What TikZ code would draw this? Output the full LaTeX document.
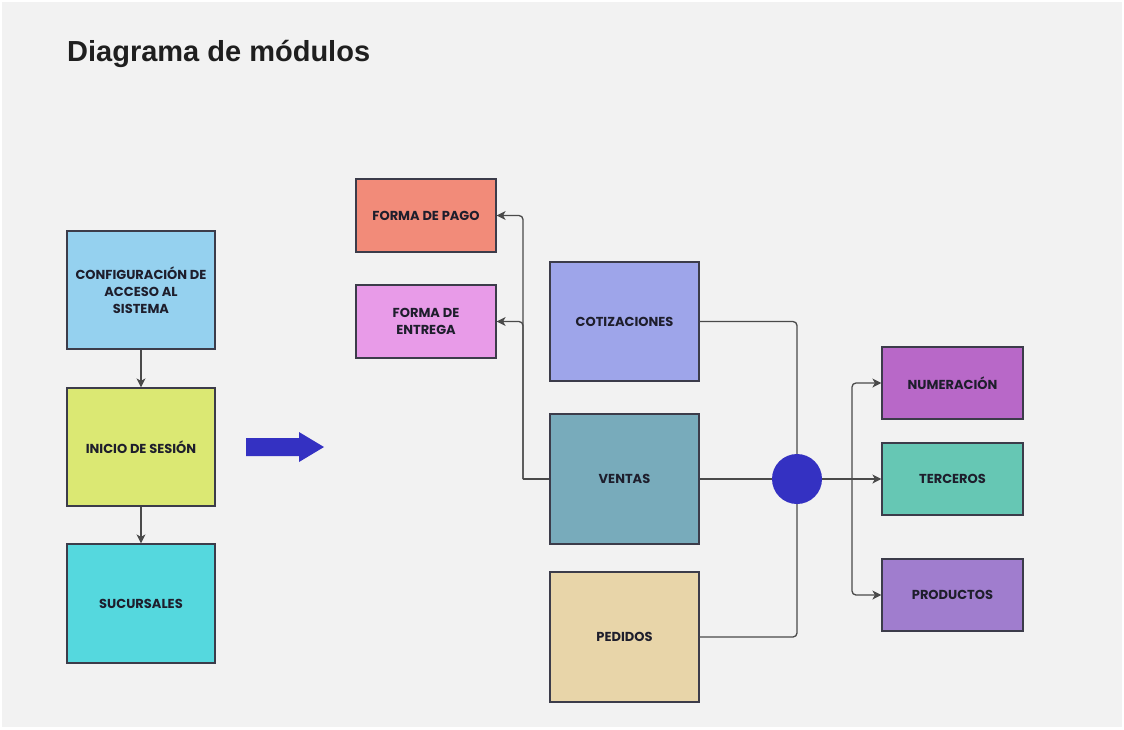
\documentclass[tikz,border=0pt]{standalone}
\usepackage{fontspec}
\setmainfont{Liberation Sans}
\newfontfamily\boxfont{Poppins}
\usetikzlibrary{arrows.meta,calc}
\definecolor{bgc}{HTML}{F2F2F2}
\definecolor{edgec}{HTML}{3C3C4A}
\definecolor{linec}{HTML}{4A4A4A}
\definecolor{txtc}{HTML}{1E1E2C}
\definecolor{hubc}{HTML}{3431C2}
\definecolor{cConf}{HTML}{95D1EF}
\definecolor{cIni}{HTML}{DBE873}
\definecolor{cSuc}{HTML}{55D8DE}
\definecolor{cPago}{HTML}{F28B79}
\definecolor{cEnt}{HTML}{E89BE8}
\definecolor{cCot}{HTML}{9EA5EA}
\definecolor{cVen}{HTML}{78ABBB}
\definecolor{cPed}{HTML}{E8D5A9}
\definecolor{cNum}{HTML}{B868C8}
\definecolor{cTer}{HTML}{66C7B4}
\definecolor{cPro}{HTML}{A07DCE}
\tikzset{
  x=1pt, y=-1pt,
  modbox/.style={draw=edgec, line width=1.2pt, inner sep=0pt, align=center,
    font=\boxfont\bfseries\fontsize{13}{16.8}\selectfont, text=txtc},
  conn/.style={draw=linec, line width=1.3pt, rounded corners=4pt},
  arr/.style={conn, -{Stealth[length=9pt,width=9pt,inset=2.5pt]}},
  hubdot/.style={circle, fill=hubc, minimum size=50pt, inner sep=0pt},
}
% box from its corner coordinates: name, x1, y1, x2, y2, fill
\newcommand{\modbox}[6]{%
  \path (#2,#3) coordinate (#1-nw) (#4,#5) coordinate (#1-se);
  \node[modbox, fill=#6, minimum width=#4pt-#2pt, minimum height=#5pt-#3pt]
    (#1) at ($(#1-nw)!0.5!(#1-se)$)}
\begin{document}
\begin{tikzpicture}
\useasboundingbox (0,0) rectangle (1124,729);
\fill[white] (0,0) rectangle (1124,729);
\fill[bgc] (2,2) rectangle (1122,727);

\node[anchor=base west, font=\bfseries\fontsize{29}{34}\selectfont, text=black!88, inner sep=0pt]
  (title) at (67,61) {Diagrama de módulos};

% left column
\modbox{conf}{67}{231}{215}{349}{cConf} {CONFIGURACIÓN DE\\ACCESO AL\\SISTEMA};
\modbox{ini}{67}{388}{215}{506}{cIni} {INICIO DE SESIÓN};
\modbox{suc}{67}{544}{215}{663}{cSuc} {SUCURSALES};
\draw[arr] (conf.south) -- (ini.north);
\draw[arr] (ini.south) -- (suc.north);

% block arrow
\fill[hubc] (246,438) -- (299,438) -- (299,432) -- (324,447) -- (299,462) -- (299,456) -- (246,456) -- cycle;

% payment and delivery
\modbox{pago}{356}{179}{496}{252}{cPago} {FORMA DE PAGO};
\modbox{ent}{356}{285}{496}{358}{cEnt} {FORMA DE\\ENTREGA};

% central column
\modbox{cot}{550}{262}{699}{381}{cCot} {COTIZACIONES};
\modbox{ven}{550}{414}{699}{544}{cVen} {VENTAS};
\modbox{ped}{550}{572}{699}{702}{cPed} {PEDIDOS};

% hub position
\coordinate (hubc) at (797,479);

% right column
\modbox{num}{882}{347}{1023}{419}{cNum} {NUMERACIÓN};
\modbox{ter}{882}{443}{1023}{515}{cTer} {TERCEROS};
\modbox{pro}{882}{559}{1023}{631}{cPro} {PRODUCTOS};

% connectors
\coordinate (split) at (523,479);
\draw[conn] (ven.west) -- (split);
\draw[arr] (split) |- (pago.east);
\draw[arr] (split) |- (ent.east);

\draw[conn] (cot.east) -| (hubc);
\draw[conn] (ped.east) -| (hubc);
\draw[conn] (ven.east) -- (hubc);
\node[hubdot] (hub) at (hubc) {};

\coordinate (fork) at (852,479);
\draw[conn] (hub.east) -- (fork);
\draw[arr] (fork) |- (num.west);
\draw[arr] (fork) -- (ter.west);
\draw[arr] (fork) |- (pro.west);
\end{tikzpicture}
\end{document}
